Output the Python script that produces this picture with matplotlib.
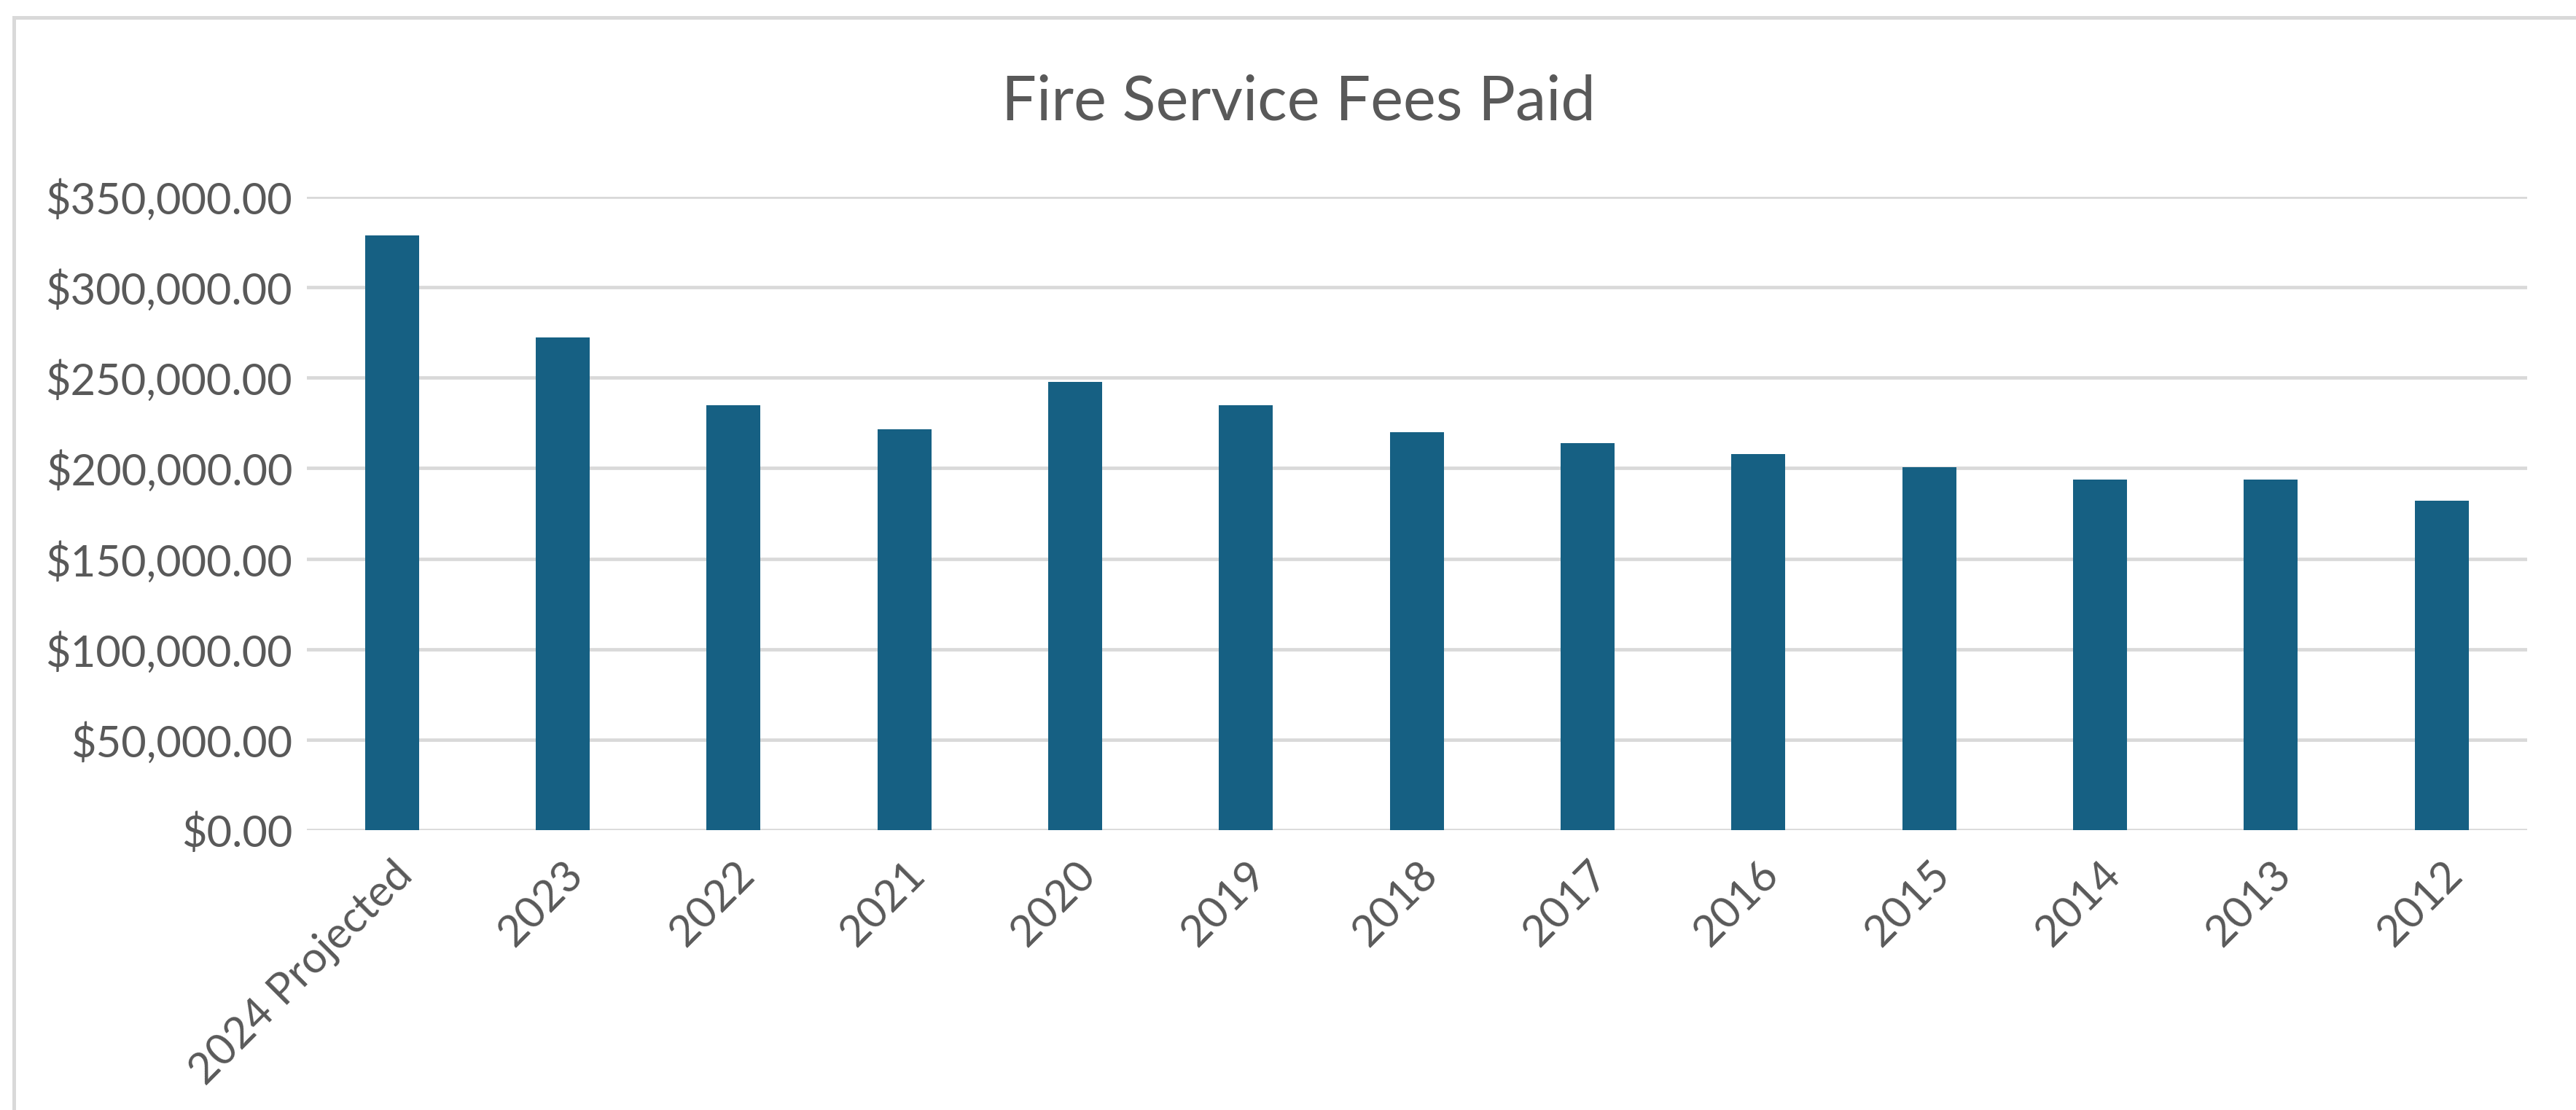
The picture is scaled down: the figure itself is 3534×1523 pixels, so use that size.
import matplotlib
matplotlib.use("Agg")
import matplotlib.pyplot as plt
from matplotlib.patches import Rectangle
from matplotlib.ticker import FuncFormatter, MultipleLocator

# data
years = ["2024 Projected", "2023", "2022", "2021", "2020", "2019", "2018",
         "2017", "2016", "2015", "2014", "2013", "2012"]
fees = [328800, 272400, 234800, 221500, 247600, 234800, 219800,
        213700, 207700, 200500, 193800, 193700, 182000]

bar_color = "#166083"
grid_color = "#D9D9D9"
text_color = "#595959"

plt.rcParams['font.family'] = ['Lato', 'DejaVu Sans']

fig = plt.figure(figsize=(17.67, 7.615), dpi=200)
ax = fig.add_axes([0.119, 0.2521, 0.862, 0.5706])

x = range(len(years))
ax.bar(x, fees, width=0.315, color=bar_color, zorder=3)

ax.set_xlim(-0.5, len(years) - 0.5)
ax.set_ylim(0, 350000)
ax.yaxis.set_major_locator(MultipleLocator(50000))
ax.yaxis.set_major_formatter(FuncFormatter(lambda v, p: "${:,.2f}".format(v)))
ax.grid(axis="y", color=grid_color, linewidth=1.7, zorder=0)
ax.set_axisbelow(True)

for s in ax.spines.values():
    s.set_visible(False)

ax.set_xticks(list(x))
ax.set_xticklabels(years, rotation=45, ha="right", rotation_mode="anchor")
ax.tick_params(axis="both", length=0, colors=text_color, labelsize=21.5)
ax.tick_params(axis="y", pad=7)
ax.tick_params(axis="x", pad=12)

fig.text(0.504, 0.908, "Fire Service Fees Paid", ha="center", va="center",
         fontsize=30.5, color=text_color)

# chart frame (right and bottom edges fall outside the picture)
fig.add_artist(Rectangle((19 / 3534, -0.2), 1.5, 1.2 - 24 / 1523,
                         transform=fig.transFigure, fill=False,
                         edgecolor=grid_color, linewidth=1.8))

fig.savefig("out.png", dpi=200, facecolor="white")
